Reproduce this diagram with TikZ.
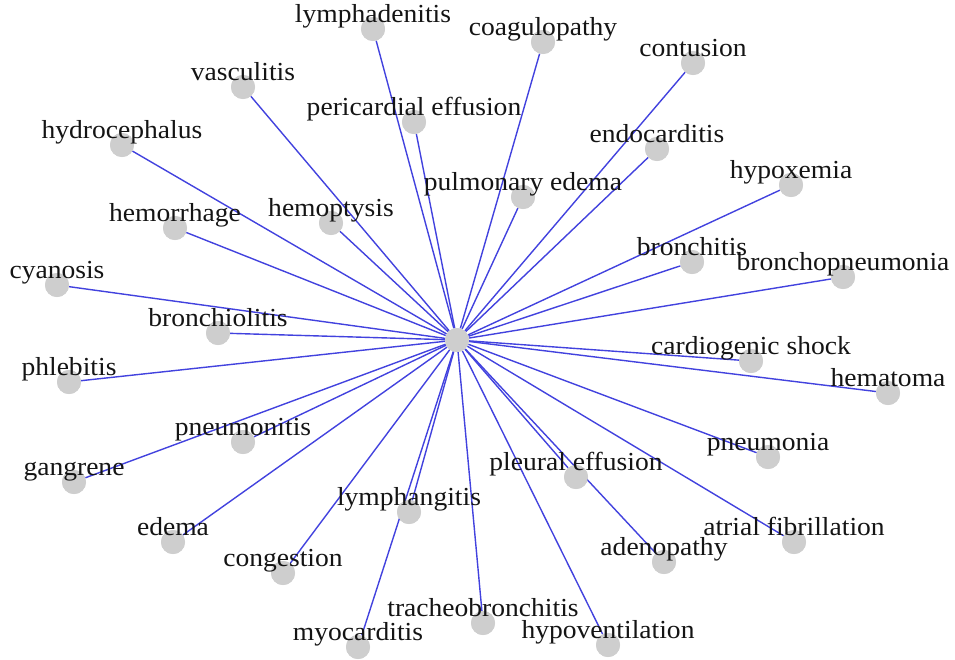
\documentclass[tikz,border=0pt]{standalone}
\usepackage{fontspec}
\setmainfont{Liberation Serif}[FakeStretch=1.06]
\definecolor{edgeblue}{RGB}{66,66,222}
\definecolor{dotgray}{RGB}{206,206,206}
\definecolor{txt}{RGB}{20,20,20}
\begin{document}
\begin{tikzpicture}[x=1pt,y=-1pt,
  dot/.style={circle,fill=dotgray,draw=none,minimum size=24pt,inner sep=0pt},
  lbl/.style={anchor=base,inner sep=0pt,text=txt,font=\fontsize{26}{28}\selectfont},
  edge/.style={draw=edgeblue,line width=1.4pt}]
\useasboundingbox (0,0) rectangle (955,659);
\node[dot] (c) at (457,340) {};
\def\nodelist{
 lymphadenitis/373/29/lymphadenitis,
 coagulopathy/543/42/coagulopathy,
 contusion/693/63/contusion,
 vasculitis/243/87/vasculitis,
 pericardial/414/122/pericardial effusion,
 endocarditis/657/149/endocarditis,
 hydrocephalus/122/145/hydrocephalus,
 hypoxemia/791/185/hypoxemia,
 pulmedema/523/197/pulmonary edema,
 hemorrhage/175/228/hemorrhage,
 hemoptysis/331/223/hemoptysis,
 bronchitis/692/262/bronchitis,
 bronchopneumonia/843/277/bronchopneumonia,
 cyanosis/57/285/cyanosis,
 bronchiolitis/218/333/bronchiolitis,
 phlebitis/69/382/phlebitis,
 cardshock/751/361/cardiogenic shock,
 hematoma/888/393/hematoma,
 pneumonitis/243/442/pneumonitis,
 pneumonia/768/457/pneumonia,
 gangrene/74/482/gangrene,
 pleural/576/477/pleural effusion,
 lymphangitis/409/512/lymphangitis,
 atrialfib/794/542/atrial fibrillation,
 edema/173/542/edema,
 adenopathy/664/562/adenopathy,
 congestion/283/573/congestion,
 tracheobronchitis/483/623/tracheobronchitis,
 myocarditis/358/647/myocarditis,
 hypoventilation/608/645/hypoventilation}
% circles (named)
\foreach \n/\x/\y/\t in \nodelist {\node[dot] (\n) at (\x,\y) {};}
% edges from the hub to every node
\foreach \n/\x/\y/\t in \nodelist {\path[edge] (c) -- (\n);}
% circles again on top of the edges
\node[dot] at (c) {};
\foreach \n/\x/\y/\t in \nodelist {\node[dot] at (\n) {};}
% labels
\foreach \n/\x/\y/\t in \nodelist {\node[lbl] at ([yshift=7pt]\n.center) {\t};}
\end{tikzpicture}
\end{document}
